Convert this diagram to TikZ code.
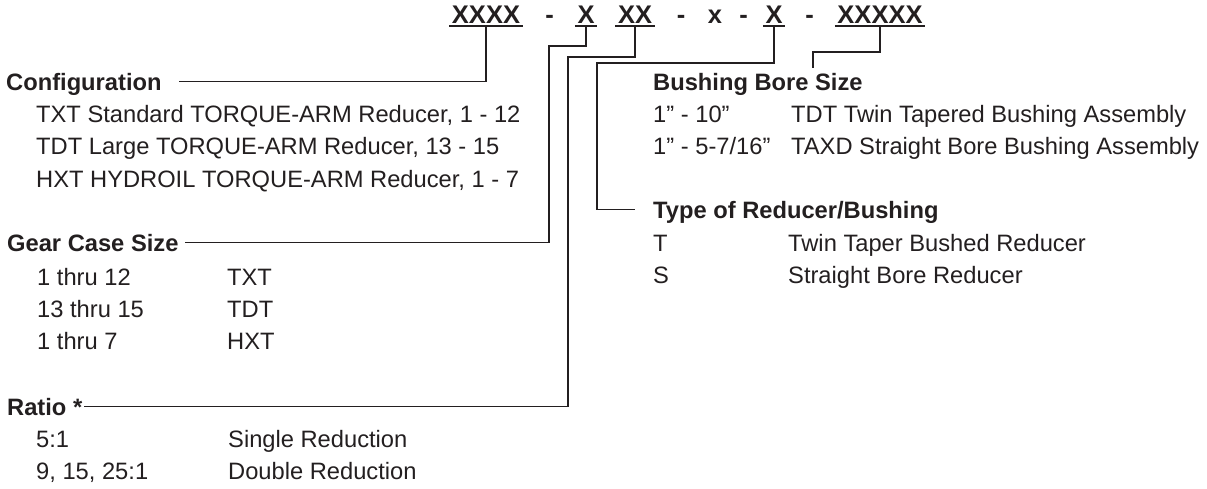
\documentclass[tikz,border=0pt]{standalone}
\usepackage{fontspec}
\setmainfont{Liberation Sans}
\usetikzlibrary{positioning}
\definecolor{ink}{HTML}{231F20}

\begin{document}
\begin{tikzpicture}[
	x=1pt, y=1pt,
	font=\fontsize{23.7}{28}\selectfont,
	color=ink,
	head/.style={font=\fontsize{23.7}{28}\selectfont\bfseries, anchor=base west, inner sep=0pt, text height=17pt, text depth=0pt},
	item/.style={anchor=base west, inner sep=0pt},
	code/.style={font=\fontsize{25.5}{28}\selectfont\bfseries, anchor=base, inner xsep=2.5pt, inner ysep=2.7pt, text height=17.5pt, text depth=0pt},
	link/.style={draw=ink, line width=1.8pt}
]
\useasboundingbox (0,0) rectangle (1207,-488);

% --- Top: model code ---
\node[code] (ccode) at (486,-23.3) {XXXX};
\node[code] (d1) at (549.5,-23.3) {-};
\node[code] (gcode) at (586,-23.3) {X};
\node[code] (rcode) at (635,-23.3) {XX};
\node[code] (d2) at (681,-23.3) {-};
\node[code] (xcode) at (715,-23.3) {x};
\node[code] (d3) at (743.5,-23.3) {-};
\node[code] (tcode) at (774,-23.3) {X};
\node[code] (d4) at (809.5,-23.3) {-};
\node[code] (bcode) at (880,-23.3) {XXXXX};
\foreach \n in {ccode,gcode,rcode,tcode,bcode}
	\draw[link] (\n.south west) -- (\n.south east);

% --- Left: configuration ---
\node[head] (config) at (6,-90) {Configuration};
\node[item] (cfgtxt) at (36,-122) {TXT Standard TORQUE-ARM Reducer, 1 - 12};
\node[item] (cfgtdt) at (36,-154) {TDT Large TORQUE-ARM Reducer, 13 - 15};
\node[item] (cfghxt) at (36,-187) {HXT HYDROIL TORQUE-ARM Reducer, 1 - 7};

% --- Left: gear case size ---
\node[head] (gear) at (7,-251) {Gear Case Size};
\node[item] (gear1) at (37,-285) {1 thru 12};
\node[item] (gear1t) at (227,-285) {TXT};
\node[item] (gear2) at (37,-317) {13 thru 15};
\node[item] (gear2t) at (227,-317) {TDT};
\node[item] (gear3) at (37,-349) {1 thru 7};
\node[item] (gear3t) at (227,-349) {HXT};

% --- Left: ratio ---
\node[head] (ratio) at (7,-415) {Ratio *};
\node[item] (ratio1) at (36,-447) {5:1};
\node[item] (ratio1t) at (228,-447) {Single Reduction};
\node[item] (ratio2) at (36,-479) {9, 15, 25:1};
\node[item] (ratio2t) at (228,-479) {Double Reduction};

% --- Right: bushing bore size ---
\node[head] (bore) at (653,-90) {Bushing Bore Size};
\node[item] (bore1) at (653,-122) {1” - 10”};
\node[item] (bore1t) at (791,-122) {TDT Twin Tapered Bushing Assembly};
\node[item] (bore2) at (653,-154) {1” - 5-7/16”};
\node[item] (bore2t) at (791,-154) {TAXD Straight Bore Bushing Assembly};

% --- Right: type of reducer ---
\node[head] (type) at (653,-218) {Type of Reducer/Bushing};
\node[item] (type1) at (653,-251) {T};
\node[item] (type1t) at (788,-251) {Twin Taper Bushed Reducer};
\node[item] (type2) at (653,-283) {S};
\node[item] (type2t) at (788,-283) {Straight Bore Reducer};

% --- Leader lines ---
\coordinate (gbend) at (549,-46);
\coordinate (rbend) at (568,-57);
\coordinate (tbend) at (597,-63);
\coordinate (bend) at (813,-68);
\draw[link] (ccode.south) |- ([xshift=17pt]config.east);
\draw[link] (gcode.south) |- (gbend) |- ([xshift=6pt]gear.east);
\draw[link] (rcode.south) |- (rbend) |- ([xshift=2pt]ratio.east);
\draw[link] (tcode.south) |- (tbend) |- ([xshift=-18pt]type.west);
\draw[link] (bcode.south) -- ++(0,-26) -| (bend);

\end{tikzpicture}
\end{document}
